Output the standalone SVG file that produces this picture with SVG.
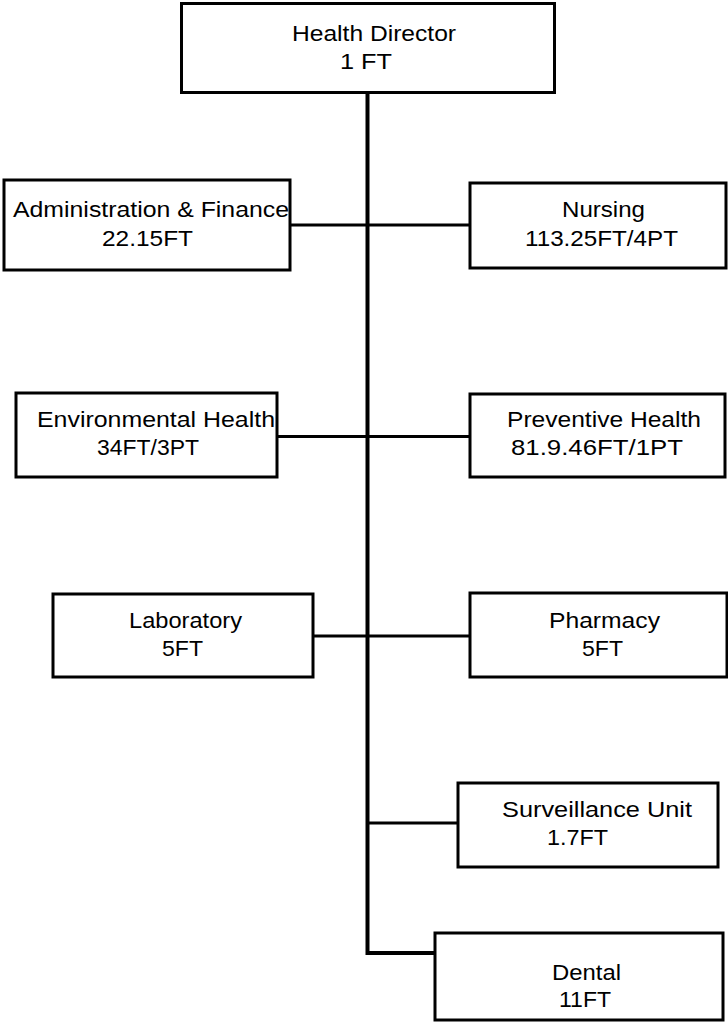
<svg xmlns="http://www.w3.org/2000/svg" width="728" height="1023" viewBox="0 0 728 1023">
<style>
.box{fill:#fff;stroke:#000;stroke-width:3}
.t{font-family:"Liberation Sans",Arial,sans-serif;font-size:22px;fill:#000}
.c{fill:none;stroke:#000;stroke-width:3}
.v{fill:none;stroke:#000;stroke-width:4}
</style>
<rect width="728" height="1023" fill="#fff"/>
<g id="connectors">
<path class="v" d="M367.5,93 V953 H435"/>
<line class="c" x1="290" y1="225" x2="470" y2="225"/>
<line class="c" x1="277" y1="436.5" x2="470" y2="436.5"/>
<line class="c" x1="313" y1="636" x2="470" y2="636"/>
<line class="c" x1="367" y1="823" x2="458" y2="823"/>
</g>
<g id="director">
<rect class="box" x="181.5" y="3.5" width="373" height="89"/>
<text class="t" x="292" y="41" textLength="164" lengthAdjust="spacingAndGlyphs">Health Director</text>
<text class="t" x="340" y="69" textLength="52" lengthAdjust="spacingAndGlyphs">1 FT</text>
</g>
<g id="admin">
<rect class="box" x="4" y="180" width="286" height="90"/>
<text class="t" x="13" y="217" textLength="276" lengthAdjust="spacingAndGlyphs">Administration &amp; Finance</text>
<text class="t" x="102" y="246" textLength="91" lengthAdjust="spacingAndGlyphs">22.15FT</text>
</g>
<g id="nursing">
<rect class="box" x="470" y="183" width="256" height="85"/>
<text class="t" x="562" y="217" textLength="83" lengthAdjust="spacingAndGlyphs">Nursing</text>
<text class="t" x="525" y="246" textLength="153" lengthAdjust="spacingAndGlyphs">113.25FT/4PT</text>
</g>
<g id="environmental">
<rect class="box" x="16" y="393" width="261" height="84"/>
<text class="t" x="37" y="427" textLength="238" lengthAdjust="spacingAndGlyphs">Environmental Health</text>
<text class="t" x="97" y="455" textLength="102" lengthAdjust="spacingAndGlyphs">34FT/3PT</text>
</g>
<g id="preventive">
<rect class="box" x="470" y="394" width="255" height="83"/>
<text class="t" x="507" y="427" textLength="194" lengthAdjust="spacingAndGlyphs">Preventive Health</text>
<text class="t" x="511" y="455" textLength="172" lengthAdjust="spacingAndGlyphs">81.9.46FT/1PT</text>
</g>
<g id="laboratory">
<rect class="box" x="53" y="594" width="260" height="83"/>
<text class="t" x="129" y="628" textLength="113" lengthAdjust="spacingAndGlyphs">Laboratory</text>
<text class="t" x="162" y="656" textLength="41" lengthAdjust="spacingAndGlyphs">5FT</text>
</g>
<g id="pharmacy">
<rect class="box" x="470" y="593" width="257" height="84"/>
<text class="t" x="549" y="628" textLength="111" lengthAdjust="spacingAndGlyphs">Pharmacy</text>
<text class="t" x="582" y="656" textLength="41" lengthAdjust="spacingAndGlyphs">5FT</text>
</g>
<g id="surveillance">
<rect class="box" x="458" y="783" width="260" height="84"/>
<text class="t" x="502" y="817" textLength="190" lengthAdjust="spacingAndGlyphs">Surveillance Unit</text>
<text class="t" x="547" y="845" textLength="61" lengthAdjust="spacingAndGlyphs">1.7FT</text>
</g>
<g id="dental">
<rect class="box" x="435" y="933" width="288" height="87"/>
<text class="t" x="552" y="980" textLength="69" lengthAdjust="spacingAndGlyphs">Dental</text>
<text class="t" x="559" y="1007" textLength="52" lengthAdjust="spacingAndGlyphs">11FT</text>
</g>
</svg>
